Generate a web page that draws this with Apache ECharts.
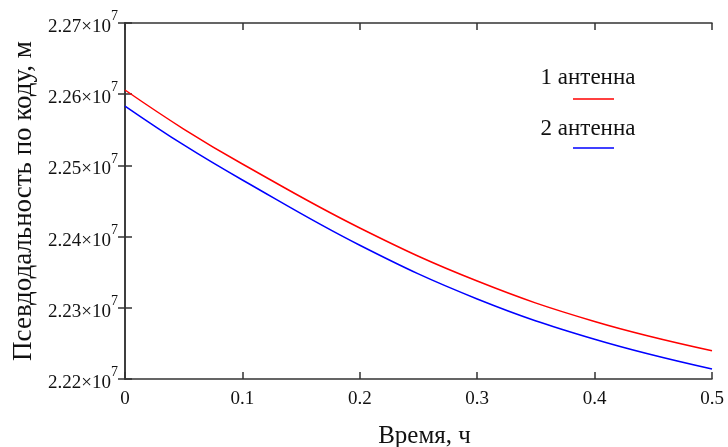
<!DOCTYPE html>
<html>
<head>
<meta charset="utf-8">
<script src="https://cdn.jsdelivr.net/npm/echarts@6/dist/echarts.min.js"></script>
<style>
  html, body { margin: 0; padding: 0; background: #fff; }
  #main { width: 728px; height: 447px; }
</style>
</head>
<body>
<div id="main"></div>
<script>
// время, ч
var times = [0, 0.05, 0.1, 0.2, 0.3, 0.4, 0.5];
// псевдодальность, м
var antenna1 = [22605900, 22551100, 22502000, 22412100, 22337600, 22280800, 22239700];
var antenna2 = [22583400, 22528700, 22479500, 22387800, 22312400, 22255800, 22214000];
var seriesNames = ['1 антенна', '2 антенна'];

var FONT = '"Liberation Serif", "DejaVu Serif", serif';
var axisColor = '#333';
var textColor = '#111';

function pairs(xs, ys) {
  return xs.map(function (x, i) { return [x, ys[i]]; });
}

// рамка: оси снизу/слева с подписями, сверху/справа только засечки
var tickStyle = { inside: true, length: 7, lineStyle: { color: axisColor, width: 1.5 } };
var lineStyle = { lineStyle: { color: axisColor, width: 1.5 } };

var chart = echarts.init(document.getElementById('main'));
chart.setOption({
  animation: false,
  grid: { left: 125, right: 16, top: 23, bottom: 68, outerBoundsMode: 'none' },
  xAxis: [
    {
      type: 'value', min: 0, max: 0.5, interval: 0.1,
      name: 'Время, ч', nameLocation: 'middle', nameGap: 45,
      nameTextStyle: { fontFamily: FONT, fontSize: 25, color: textColor, padding: [0, 0, 0, 12] },
      axisLine: lineStyle,
      axisTick: tickStyle,
      axisLabel: { fontFamily: FONT, fontSize: 19, color: textColor, margin: 11,
        formatter: function (v) { return v === 0 ? '0' : String(+v.toFixed(1)); } },
      splitLine: { show: false }
    },
    {
      type: 'value', min: 0, max: 0.5, interval: 0.1, position: 'top',
      axisLine: lineStyle, axisTick: tickStyle,
      axisLabel: { show: false }, splitLine: { show: false }
    }
  ],
  yAxis: [
    {
      type: 'value', min: 22200000, max: 22700000, interval: 100000,
      name: 'Псевдодальность по коду, м', nameLocation: 'middle', nameGap: 87, nameRotate: 90,
      nameTextStyle: { fontFamily: FONT, fontSize: 27, color: textColor },
      axisLine: lineStyle,
      axisTick: tickStyle,
      axisLabel: {
        margin: 7,
        formatter: function (v) { return '{b|' + (v / 1e7).toFixed(2) + '×10}{s|7}'; },
        rich: {
          b: { fontFamily: FONT, fontSize: 19, color: textColor, padding: [8, 0, 0, 0] },
          s: { fontFamily: FONT, fontSize: 14, color: textColor, verticalAlign: 'top', padding: [0, 0, 6, 0] }
        }
      },
      splitLine: { show: false }
    },
    {
      type: 'value', min: 22200000, max: 22700000, interval: 100000, position: 'right',
      axisLine: lineStyle, axisTick: tickStyle,
      axisLabel: { show: false }, splitLine: { show: false }
    }
  ],
  series: [
    {
      name: seriesNames[0], type: 'line', smooth: 0.4, showSymbol: false,
      data: pairs(times, antenna1),
      lineStyle: { color: '#ff0000', width: 1.5 }
    },
    {
      name: seriesNames[1], type: 'line', smooth: 0.4, showSymbol: false,
      data: pairs(times, antenna2),
      lineStyle: { color: '#0000ff', width: 1.5 }
    }
  ],
  // легенда как в Mathcad: подпись над образцом линии
  graphic: [
    { type: 'text', x: 588, y: 66, style: { text: seriesNames[0], font: '23px ' + FONT, fill: textColor, align: 'center' } },
    { type: 'line', shape: { x1: 573, y1: 99, x2: 614, y2: 99 }, style: { stroke: '#ff0000', lineWidth: 1.5 } },
    { type: 'text', x: 588, y: 117, style: { text: seriesNames[1], font: '23px ' + FONT, fill: textColor, align: 'center' } },
    { type: 'line', shape: { x1: 573, y1: 148, x2: 614, y2: 148 }, style: { stroke: '#0000ff', lineWidth: 1.5 } }
  ]
});
</script>
</body>
</html>
